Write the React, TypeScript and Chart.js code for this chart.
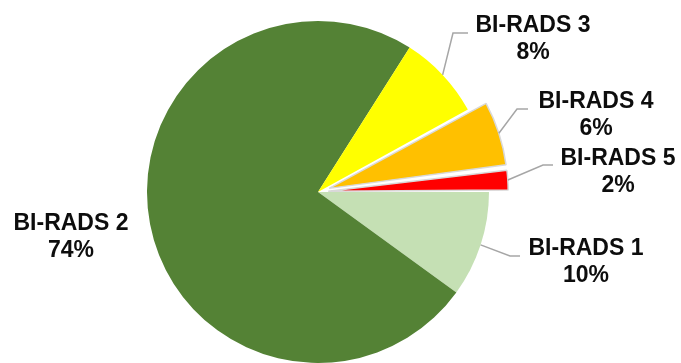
import React, { useEffect, useRef } from "react";
import { Chart, registerables } from "chart.js";

Chart.register(...registerables);

const categories = ["BI-RADS 1", "BI-RADS 2", "BI-RADS 3", "BI-RADS 4", "BI-RADS 5"];
const values = [10, 74, 8, 6, 2];

const sliceColors = ["#C5E0B4", "#548235", "#FFFF00", "#FFC000", "#FF0000"];
const sliceOffsets = [0, 0, 0, 47, 41];
const sliceBorders = [0, 0, 0, 1.5, 1.5];

// label layout (pixels): text center x, first baseline y, optional elbow and end of leader
const labelLayout = [
  { tx: 586, ty: 255, elbow: [510, 256], end: [520, 256] },
  { tx: 71, ty: 230, elbow: null, end: null },
  { tx: 533, ty: 32, elbow: [453, 33], end: [468, 33] },
  { tx: 596, ty: 108, elbow: [517, 109], end: [528, 109] },
  { tx: 618, ty: 165, elbow: [543, 165], end: [553, 165] },
];

const labelPlugin = {
  id: "pieLabels",
  afterDatasetsDraw(chart: any) {
    const ctx = chart.ctx;
    const meta = chart.getDatasetMeta(0);
    const data = chart.data.datasets[0].data as number[];
    const total = data.reduce((a, b) => a + b, 0);
    ctx.save();
    meta.data.forEach((arc: any, i: number) => {
      const p = arc.getProps(["x", "y", "startAngle", "endAngle", "outerRadius", "circumference"], true);
      const mid = (p.startAngle + p.endAngle) / 2;
      const off = (sliceOffsets[i] || 0) / 4;
      const fix = 1 - Math.sin(Math.min(Math.PI, p.circumference || 0));
      const shift = off + off * fix;
      const r = p.outerRadius + shift;
      const ax = p.x + Math.cos(mid) * r;
      const ay = p.y + Math.sin(mid) * r;
      const lay = labelLayout[i];
      if (lay.elbow && lay.end) {
        ctx.strokeStyle = "#A6A6A6";
        ctx.lineWidth = 1.5;
        ctx.beginPath();
        ctx.moveTo(ax, ay);
        ctx.lineTo(lay.elbow[0], lay.elbow[1]);
        ctx.lineTo(lay.end[0], lay.end[1]);
        ctx.stroke();
      }
      ctx.fillStyle = "#0D0D0D";
      ctx.font = 'bold 23px "Liberation Sans", Arial, sans-serif';
      ctx.textAlign = "center";
      ctx.textBaseline = "alphabetic";
      ctx.fillText(chart.data.labels[i], lay.tx, lay.ty);
      ctx.fillText(Math.round((data[i] / total) * 100) + "%", lay.tx, lay.ty + 27);
    });
    ctx.restore();
  },
};

export default function App() {
  const ref = useRef<HTMLCanvasElement | null>(null);
  useEffect(() => {
    if (!ref.current) return;
    const chart = new Chart(ref.current, {
      type: "pie",
      data: {
        labels: categories,
        datasets: [
          {
            data: values,
            backgroundColor: sliceColors,
            borderColor: "#D9D9D9",
            borderWidth: sliceBorders,
            offset: sliceOffsets,
          },
        ],
      },
      options: {
        responsive: false,
        animation: false,
        rotation: 90,
        radius: 171,
        layout: { padding: { left: 0, right: 45, top: 21, bottom: 0 } },
        plugins: { legend: { display: false }, tooltip: { enabled: false } },
        events: [],
      },
      plugins: [labelPlugin],
    });
    return () => chart.destroy();
  }, []);
  return (
    <div style={{ position: "absolute", left: 0, top: 0, width: 681, height: 363, background: "#fff" }}>
      <canvas ref={ref} width={681} height={363} />
    </div>
  );
}
